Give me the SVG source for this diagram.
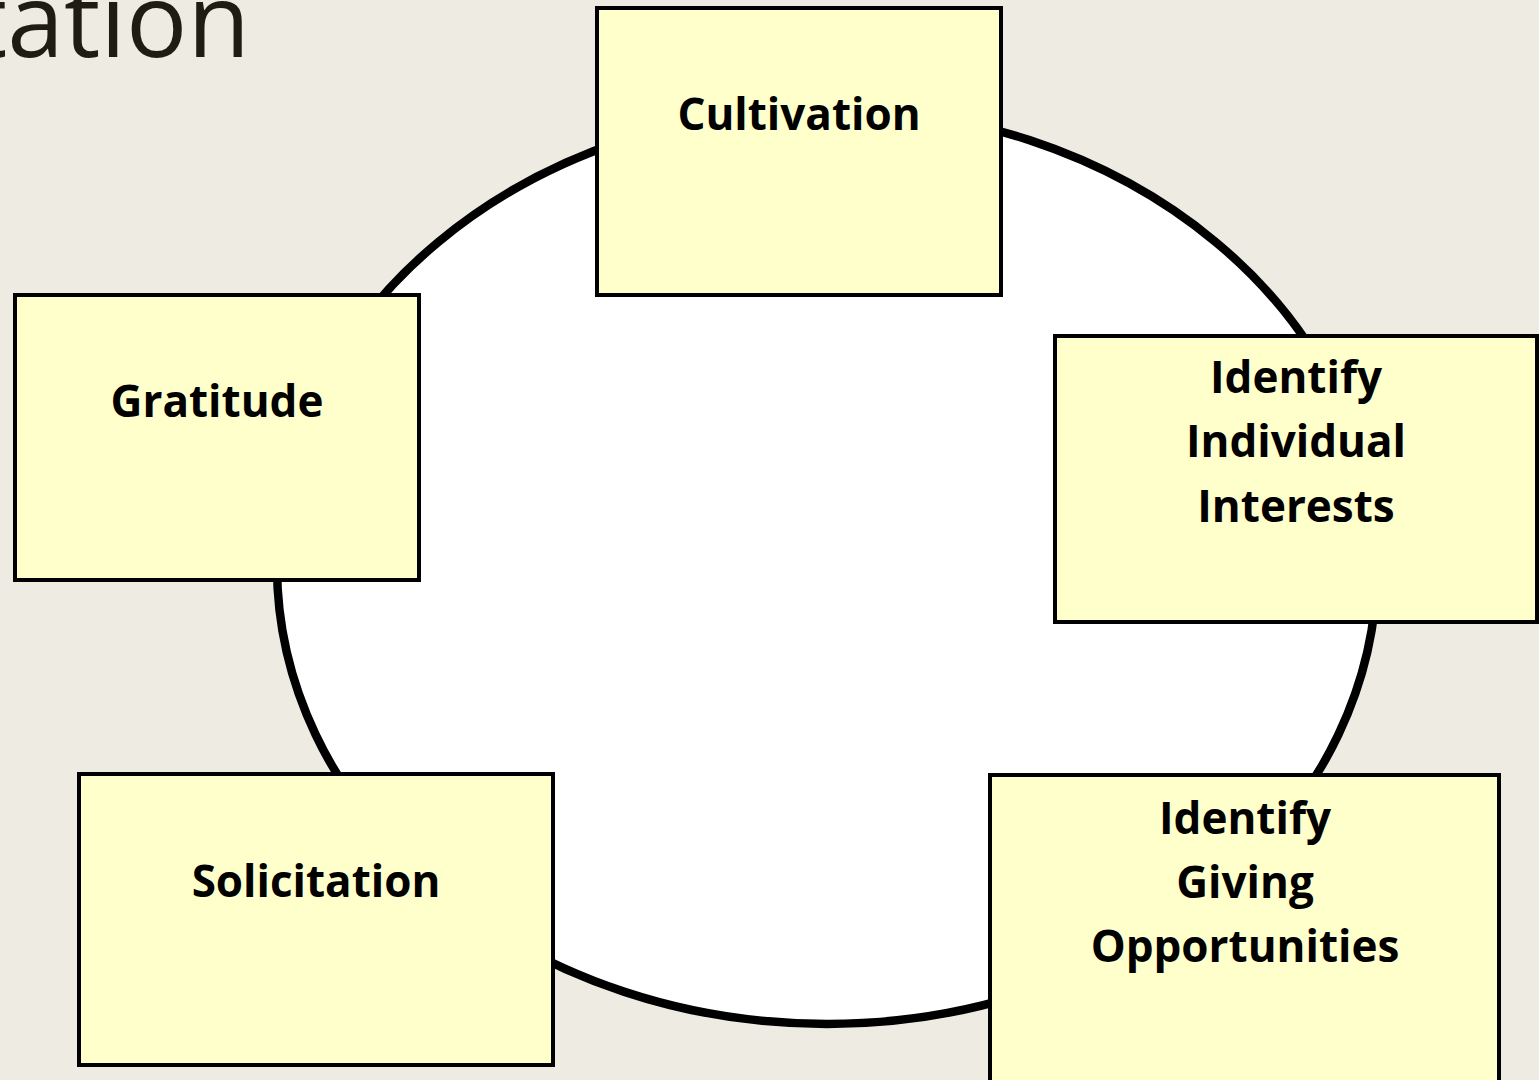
<svg xmlns="http://www.w3.org/2000/svg" width="1539" height="1080" viewBox="0 0 1539 1080">
  <style>
    .bg { fill: #EEEBE3; }
    .ring { fill: #FFFFFF; stroke: #000000; stroke-width: 8.5; }
    .box { fill: #FFFFCC; stroke: #000000; stroke-width: 4; }
    .label { font-family: "Open Sans", "Liberation Sans", sans-serif; font-weight: bold; font-size: 44px; fill: #000000; text-anchor: middle; }
    .title { font-family: "Open Sans", "Liberation Sans", sans-serif; font-size: 102px; fill: #1D1D12; }
  </style>

  <rect class="bg" x="0" y="0" width="1539" height="1080"/>

  <!-- slide title, partly off the left/top edge -->
  <text class="title" x="250" y="57" text-anchor="end">tation</text>

  <!-- cycle ring joining the stages -->
  <g id="connectors">
    <ellipse class="ring" cx="827" cy="566" rx="550" ry="458"/>
  </g>

  <g id="cultivation">
    <rect class="box" x="597" y="8" width="404" height="287"/>
    <text class="label" x="799" y="130">Cultivation</text>
  </g>

  <g id="identify-interests">
    <rect class="box" x="1055" y="336" width="482" height="286"/>
    <text class="label" x="1296" y="393">Identify</text>
    <text class="label" x="1296" y="457">Individual</text>
    <text class="label" x="1296" y="522">Interests</text>
  </g>

  <g id="identify-opportunities">
    <rect class="box" x="990" y="775" width="509" height="312"/>
    <text class="label" x="1245" y="834">Identify</text>
    <text class="label" x="1245" y="898">Giving</text>
    <text class="label" x="1245" y="962">Opportunities</text>
  </g>

  <g id="solicitation">
    <rect class="box" x="79" y="774" width="474" height="291"/>
    <text class="label" x="316" y="897">Solicitation</text>
  </g>

  <g id="gratitude">
    <rect class="box" x="15" y="295" width="404" height="285"/>
    <text class="label" x="217" y="417">Gratitude</text>
  </g>
</svg>
